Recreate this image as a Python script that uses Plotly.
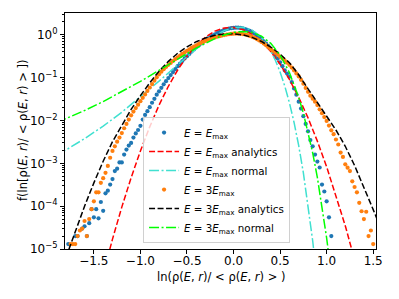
import plotly.graph_objects as go

# ---- data ----
# bin centres of the two sampled distributions
bins = [-1.775, -1.75, -1.725, -1.7, -1.675, -1.65, -1.625, -1.6, -1.575, -1.55,
        -1.525, -1.5, -1.475, -1.45, -1.425, -1.4, -1.375, -1.35, -1.325, -1.3,
        -1.275, -1.25, -1.225, -1.2, -1.175, -1.15, -1.125, -1.1, -1.075, -1.05,
        -1.025, -1.0, -0.975, -0.95, -0.925, -0.9, -0.875, -0.85, -0.825, -0.8,
        -0.775, -0.75, -0.725, -0.7, -0.675, -0.65, -0.625, -0.6, -0.575, -0.55,
        -0.525, -0.5, -0.475, -0.45, -0.425, -0.4, -0.375, -0.35, -0.325, -0.3,
        -0.275, -0.25, -0.225, -0.2, -0.175, -0.15, -0.125, -0.1, -0.075, -0.05,
        -0.025, 0.0, 0.025, 0.05, 0.075, 0.1, 0.125, 0.15, 0.175, 0.2,
        0.225, 0.25, 0.275, 0.3, 0.325, 0.35, 0.375, 0.4, 0.425, 0.45,
        0.475, 0.5, 0.525, 0.55, 0.575, 0.6, 0.625, 0.65, 0.675, 0.7,
        0.725, 0.75, 0.775, 0.8, 0.825, 0.85, 0.875, 0.9, 0.925, 0.95,
        0.975, 1.0, 1.025, 1.05, 1.075, 1.1, 1.125, 1.15, 1.175, 1.2,
        1.225, 1.25, 1.275, 1.3, 1.325, 1.35, 1.375, 1.4, 1.425, 1.45,
        1.475, 1.5]

f_emax = [1.3e-5, None, None, 2.0e-5, 2.0e-5, None, 3.0e-5, 3.4e-5, 2.0e-5, 4.0e-5,
          8.5e-5, 5.5e-5, 8.5e-5, 5.2e-5, 1.25e-4, 7.8e-5, 2.0e-4, 2.3e-4, 3.2e-4, 4.3e-4,
          6.6e-4, 7.5e-4, 1.05e-3, 1.05e-3, 1.6e-3, 2.1e-3, 2.6e-3, 3.0e-3, 4.0e-3, 5.0e-3,
          6.0e-3, 7.5e-3, 0.0105, 0.0135, 0.0165, 0.0205, 0.026, 0.032, 0.040, 0.048,
          0.058, 0.070, 0.083, 0.098, 0.115, 0.135, 0.158, 0.186, 0.214, 0.245,
          0.282, 0.316, 0.359, 0.407, 0.457, 0.513, 0.569, 0.631, 0.692, 0.759,
          0.822, 0.891, 0.955, 1.023, 1.096, 1.16, 1.23, 1.29, 1.35, 1.40,
          1.43, 1.455, 1.47, 1.47, 1.455, 1.42, 1.37, 1.31, 1.24, 1.16,
          1.07, 0.977, 0.881, 0.794, 0.708, 0.624, 0.543, 0.468, 0.398, 0.335,
          0.279, 0.229, 0.186, 0.148, 0.125, 0.105, 0.079, 0.056, 0.040, 0.0275,
          0.019, 0.0126, 8.3e-3, 5.6e-3, 3.5e-3, 2.5e-3, 1.6e-3, 1.1e-3, 8.0e-4, 3.2e-4,
          2.2e-4, 1.3e-4, 5.5e-5, 2.0e-5, None, None, None, None, None, None,
          None, None, None, None, None, None, None, None, None, None,
          None, None]

f_3emax = [None, 1.3e-5, 1.3e-5, 1.3e-5, 2.0e-5, 2.7e-5, 3.0e-5, 4.5e-5, 2.0e-5, 5.0e-5,
           8.5e-5, 1.3e-4, 2.1e-4, 2.1e-4, 3.5e-4, 4.5e-4, 6.0e-4, 8.7e-4, 1.35e-3, 1.95e-3,
           2.5e-3, 3.2e-3, 4.0e-3, 5.1e-3, 6.6e-3, 8.3e-3, 0.0105, 0.0132, 0.0162, 0.0195,
           0.0234, 0.0282, 0.0339, 0.0407, 0.049, 0.0589, 0.0708, 0.0851, 0.102, 0.120,
           0.138, 0.158, 0.178, 0.20, 0.221, 0.245, 0.272, 0.299, 0.327, 0.359,
           0.389, 0.422, 0.457, 0.495, 0.531, 0.569, 0.61, 0.646, 0.684, 0.724,
           0.764, 0.802, 0.838, 0.871, 0.902, 0.931, 0.959, 0.986, 1.012, 1.033,
           1.05, 1.062, 1.072, 1.072, 1.062, 1.045, 1.02, 0.985, 0.945, 0.90,
           0.85, 0.795, 0.74, 0.68, 0.625, 0.57, 0.515, 0.465, 0.42, 0.38,
           0.345, 0.31, 0.28, 0.25, 0.224, 0.2, 0.172, 0.148, 0.126, 0.107,
           0.089, 0.0724, 0.0575, 0.0468, 0.038, 0.0324, 0.0275, 0.0229, 0.0182, 0.0148,
           0.012, 9.8e-3, 7.6e-3, 5.9e-3, 4.8e-3, 3.6e-3, 2.75e-3, 1.78e-3, 1.41e-3, 9.5e-4,
           7.9e-4, 6.6e-4, 3.8e-4, 2.8e-4, 2.1e-4, 1.2e-4, 7.6e-5, 5.0e-5, 7.4e-5, 2.0e-5,
           2.7e-5, 1.3e-5]

x_an1 = [-1.4, -1.3, -1.2, -1.1, -1.0, -0.9, -0.8, -0.7, -0.6, -0.5, -0.4, -0.3, -0.2, -0.1,
         0.0, 0.1, 0.2, 0.3, 0.4, 0.5, 0.6, 0.7, 0.8, 0.9, 1.0, 1.1, 1.2, 1.3]
f_an1 = [2.6e-6, 1.7e-5, 9.5e-5, 4.6e-4, 1.95e-3, 7.1e-3, 0.0229, 0.063, 0.151, 0.316,
         0.570, 0.895, 1.22, 1.45, 1.49, 1.33, 1.03, 0.695, 0.407, 0.206,
         0.091, 0.0347, 0.0115, 3.3e-3, 8.3e-4, 1.8e-4, 3.5e-5, 5.6e-6]

x_norm1 = [-1.9, -1.8, -1.6, -1.4, -1.2, -1.0, -0.8, -0.6, -0.5, -0.4, -0.3, -0.2, -0.1, 0.0,
           0.1, 0.2, 0.3, 0.4, 0.45, 0.5, 0.55, 0.6, 0.65, 0.7, 0.75, 0.8, 0.85, 0.9]
f_norm1 = [1.55e-3, 2.05e-3, 3.77e-3, 7.4e-3, 0.0156, 0.0351, 0.083, 0.2, 0.31, 0.469,
           0.69, 0.964, 1.256, 1.476, 1.51, 1.29, 0.861, 0.42, 0.252, 0.136,
           0.064, 0.026, 9.0e-3, 2.58e-3, 6.0e-4, 1.1e-4, 1.56e-5, 1.6e-6]

x_an3 = [-1.8, -1.7, -1.6, -1.5, -1.4, -1.3, -1.2, -1.1, -1.0, -0.9, -0.8, -0.7, -0.6, -0.5,
         -0.4, -0.3, -0.2, -0.1, 0.0, 0.1, 0.2, 0.3, 0.4, 0.5, 0.6, 0.7, 0.8, 0.9, 1.0,
         1.1, 1.2, 1.3, 1.4, 1.5, 1.6]
f_an3 = [6.3e-6, 2.5e-5, 1.0e-4, 3.5e-4, 1.12e-3, 3.2e-3, 7.9e-3, 0.0182, 0.038, 0.0759,
         0.141, 0.24, 0.372, 0.525, 0.692, 0.851, 0.977, 1.047, 1.06, 1.0,
         0.871, 0.70, 0.519, 0.355, 0.224, 0.117, 0.055, 0.0269, 0.0126, 6.0e-3,
         2.5e-3, 8.9e-4, 2.8e-4, 8.3e-5, 2.4e-5]

x_norm3 = [-1.9, -1.8, -1.6, -1.4, -1.2, -1.0, -0.8, -0.6, -0.4, -0.2, -0.1, 0.0, 0.1,
           0.2, 0.3, 0.4, 0.5, 0.6, 0.7, 0.75, 0.8, 0.85, 0.9, 0.95, 1.0, 1.05]
f_norm3 = [8.9e-3, 0.011, 0.0171, 0.0277, 0.0468, 0.082, 0.1486, 0.272, 0.49, 0.817,
           0.995, 1.14, 1.205, 1.14, 0.933, 0.634, 0.337, 0.132, 0.0346, 0.0148,
           5.5e-3, 1.76e-3, 4.7e-4, 1.03e-4, 1.8e-5, 2.5e-6]

series_names = [
    "<i>E</i> = <i>E</i><sub>max</sub>",
    "<i>E</i> = <i>E</i><sub>max</sub> analytics",
    "<i>E</i> = <i>E</i><sub>max</sub> normal",
    "<i>E</i> = 3<i>E</i><sub>max</sub>",
    "<i>E</i> = 3<i>E</i><sub>max</sub> analytics",
    "<i>E</i> = 3<i>E</i><sub>max</sub> normal",
]

x_title = "ln(ρ(<i>E</i>, <i>r</i>)/ &lt; ρ(<i>E</i>, <i>r</i>) &gt; )"
y_title = "f(ln[ρ(<i>E</i>, <i>r</i>)/ &lt; ρ(<i>E</i>, <i>r</i>) &gt; ])"

xtick_vals = [-1.5, -1.0, -0.5, 0.0, 0.5, 1.0, 1.5]
xtick_text = ["−1.5", "−1.0", "−0.5", "0.0", "0.5", "1.0", "1.5"]
ytick_vals = [1e-5, 1e-4, 1e-3, 1e-2, 1e-1, 1.0]
ytick_text = ["10<sup>−5</sup>", "10<sup>−4</sup>", "10<sup>−3</sup>",
              "10<sup>−2</sup>", "10<sup>−1</sup>", "10<sup>0</sup>"]

FONT = "DejaVu Sans"
DASH = "6px,2.5px"
DASHDOT = "10px,2.5px,2px,2.5px"

fig = go.Figure()
fig.add_trace(go.Scatter(x=bins, y=f_emax, mode="markers", name=series_names[0],
                         marker=dict(color="#1f77b4", size=4.2, line=dict(width=0))))
fig.add_trace(go.Scatter(x=x_an1, y=f_an1, mode="lines", name=series_names[1],
                         line=dict(color="#ff0000", width=1.5, dash=DASH)))
fig.add_trace(go.Scatter(x=x_norm1, y=f_norm1, mode="lines", name=series_names[2],
                         line=dict(color="#40e0d0", width=1.5, dash=DASHDOT)))
fig.add_trace(go.Scatter(x=bins, y=f_3emax, mode="markers", name=series_names[3],
                         marker=dict(color="#ff7f0e", size=4.2, line=dict(width=0))))
fig.add_trace(go.Scatter(x=x_an3, y=f_an3, mode="lines", name=series_names[4],
                         line=dict(color="#000000", width=1.5, dash=DASH)))
fig.add_trace(go.Scatter(x=x_norm3, y=f_norm3, mode="lines", name=series_names[5],
                         line=dict(color="#00ff00", width=1.5, dash=DASHDOT)))

minor_y = [k * 10.0 ** e for e in range(-5, 1) for k in range(2, 10)]

# the page body has an 8px margin, so the figure is sized/margined to compensate
fig.update_layout(
    width=383, height=283,
    margin=dict(l=57, r=15, t=5, b=42, autoexpand=False),
    paper_bgcolor="white", plot_bgcolor="white",
    font=dict(family=FONT, size=12, color="black"),
    showlegend=True,
    legend=dict(x=0.251, y=0.025, xanchor="left", yanchor="bottom",
                bgcolor="rgba(255,255,255,0.8)", bordercolor="#d0d0d0", borderwidth=1,
                font=dict(family=FONT, size=10.3, color="black"),
                itemwidth=30, tracegroupgap=0),
    xaxis=dict(range=[-1.81, 1.53], tickmode="array", tickvals=xtick_vals, ticktext=xtick_text,
               showgrid=False, zeroline=False, showline=True, linecolor="black", linewidth=1,
               mirror=True, ticks="outside", ticklen=4, tickwidth=1, tickcolor="black",
               tickfont=dict(family=FONT, size=12), ticklabelstandoff=-3),
    yaxis=dict(type="log", range=[-5, 0.51], tickmode="array", tickvals=ytick_vals,
               ticktext=ytick_text, showgrid=False, zeroline=False, showline=True,
               linecolor="black", linewidth=1, mirror=True, ticks="outside", ticklen=4,
               tickwidth=1, tickcolor="black", tickfont=dict(family=FONT, size=12),
               minor=dict(tickvals=minor_y, ticks="outside", ticklen=2.3, tickwidth=0.8,
                          tickcolor="black", showgrid=False)),
    annotations=[
        dict(text=x_title, xref="paper", yref="paper", x=0.5, y=0, yshift=-28,
             xanchor="center", yanchor="middle", showarrow=False,
             font=dict(family=FONT, size=11.5, color="black")),
        dict(text=y_title, xref="paper", yref="paper", x=0, y=0.5, xshift=-42,
             xanchor="center", yanchor="middle", textangle=-90, showarrow=False,
             font=dict(family=FONT, size=11.5, color="black")),
    ],
)

fig.write_html("out.html")
